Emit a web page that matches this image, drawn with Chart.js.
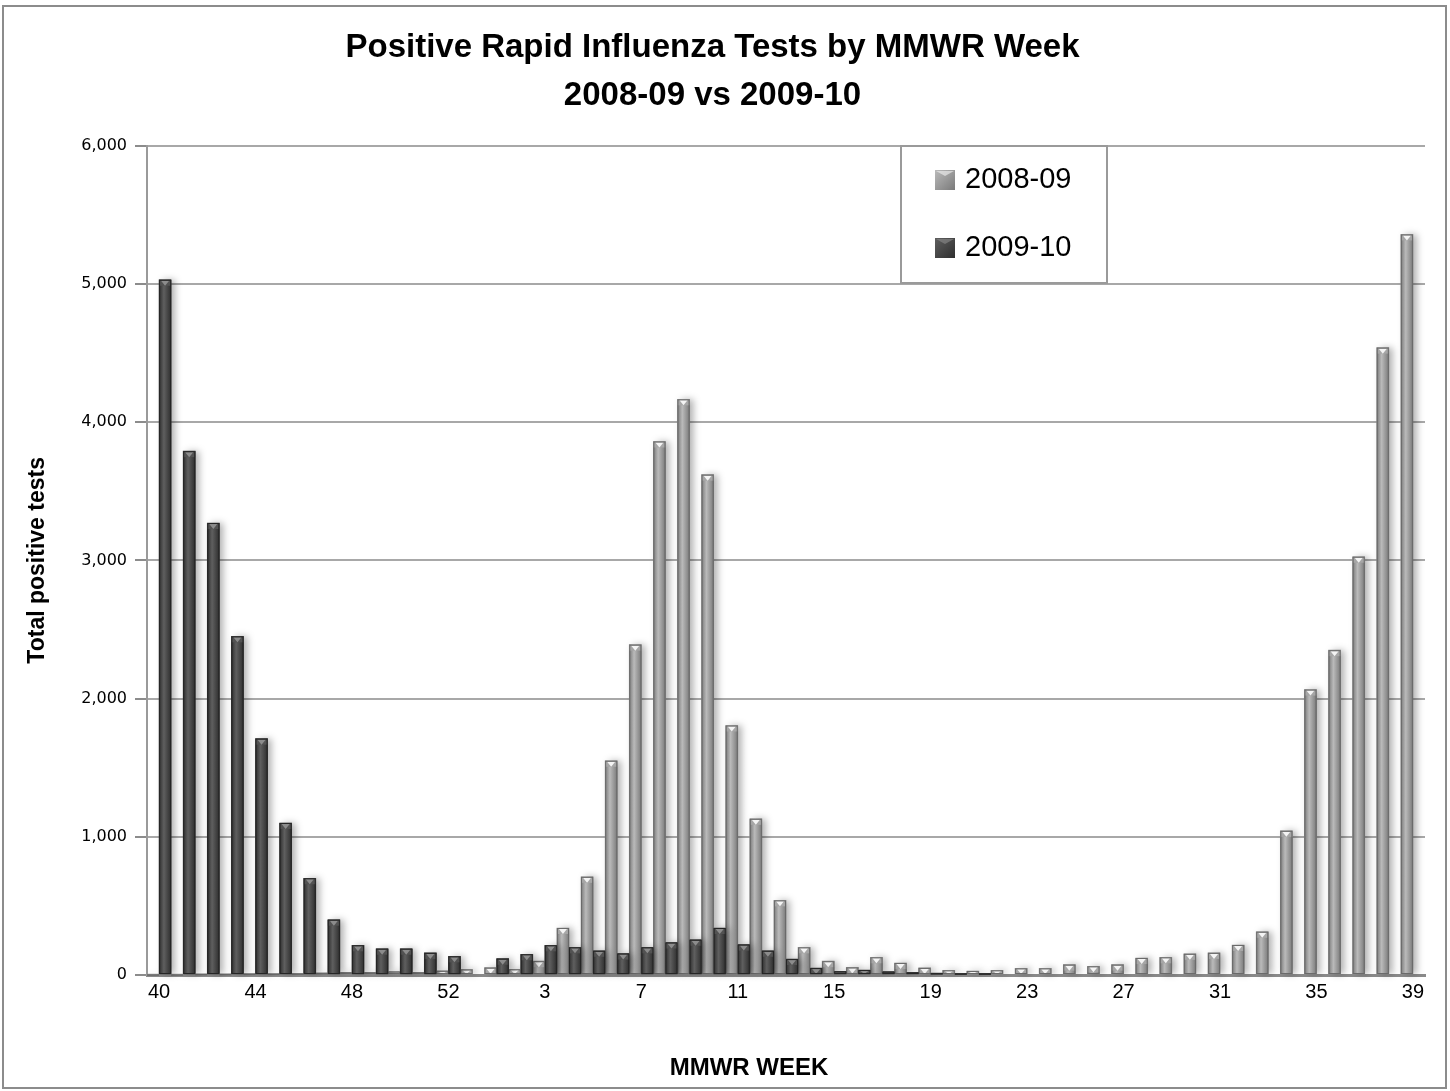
<!DOCTYPE html>
<html>
<head>
<meta charset="utf-8">
<script src="https://cdn.jsdelivr.net/npm/chart.js@4.4.1/dist/chart.umd.min.js"></script>
<style>
  html, body { margin: 0; padding: 0; background: #fff; }
  #wrap { width: 1450px; height: 1091px; }
</style>
</head>
<body>
<div id="wrap"><canvas id="fluChart" width="1450" height="1091"></canvas></div>
<script>
// MMWR weeks of a season: week 40 to week 53, then 1 to 39
var weeks = ['40','41','42','43','44','45','46','47','48','49','50','51','52','53',
  '1','2','3','4','5','6','7','8','9','10','11','12','13','14','15','16','17','18','19','20',
  '21','22','23','24','25','26','27','28','29','30','31','32','33','34','35','36','37','38','39'];
var tickEvery = 4;

var seriesNames = ['2008-09', '2009-10'];

// positive tests per week
var season0809 = [5, 5, 8, 8, 10, 10, 12, 15, 20, 20, 25, 20, 30, 40,
  53, 41, 100, 340, 710, 1550, 2390, 3860, 4165, 3620,
  1805, 1130, 540, 200, 100, 55, 128, 87, 51, 34,
  29, 34, 48, 48, 75, 63, 75, 123, 128, 153,
  160, 217, 313, 1043, 2065, 2350, 3026, 4539, 5358];
var season0910 = [5030, 3790, 3270, 2450, 1710, 1100, 700, 400, 215, 190, 190, 160, 135, null,
  118, 150, 215, 200, 175, 155, 200, 235, 255, 340,
  220, 175, 115, 50, 27, 36, 24, 19, 14, 12,
  12, null, null, null, null, null, null, null, null, null,
  null, null, null, null, null, null, null, null, null];

var yTicks = [0, 1000, 2000, 3000, 4000, 5000, 6000];

var titleLines = ['Positive Rapid Influenza Tests by MMWR Week', '2008-09 vs 2009-10'];
var xTitle = 'MMWR WEEK';
var yTitle = 'Total positive tests';

// shading for the two series (light one at back, dark one in front)
var shades = [
  { base: '#9a9a9a', edge: '#7a7a7a', mid: '#bababa', cap: '#a6a6a6', glint: '#f4f4f4', line: '#6a6a6a' },
  { base: '#464646', edge: '#2e2e2e', mid: '#5f5f5f', cap: '#525252', glint: '#8c8c8c', line: '#252525' }
];

var sans = 'Liberation Sans, Arial, sans-serif';

// white page with the grey outer frame
var frame = {
  id: 'frame',
  beforeDraw: function(chart) {
    var c = chart.ctx;
    c.save();
    c.fillStyle = '#fff';
    c.fillRect(0, 0, chart.width, chart.height);
    c.strokeStyle = '#8c8c8c';
    c.lineWidth = 2;
    c.strokeRect(3, 6, chart.width - 7, chart.height - 9);
    c.restore();
  }
};

// fake the excel 3d look: bevelled columns with a soft shadow
var bevel = {
  id: 'bevel',
  afterDatasetsDraw: function(chart) {
    var c = chart.ctx;
    c.save();
    chart.data.datasets.forEach(function(ds, di) {
      var meta = chart.getDatasetMeta(di);
      var sh = shades[di];
      meta.data.forEach(function(bar, i) {
        var v = ds.data[i];
        if (v == null || v <= 0) return;
        var w = bar.width;
        var left = bar.x - w / 2, right = bar.x + w / 2;
        var top = bar.y, h = bar.base - bar.y;
        var g = c.createLinearGradient(left, 0, right, 0);
        g.addColorStop(0, sh.edge);
        g.addColorStop(0.4, sh.mid);
        g.addColorStop(1, sh.edge);
        c.shadowColor = 'rgba(0,0,0,0.3)';
        c.shadowBlur = 7;
        c.shadowOffsetX = 4;
        c.shadowOffsetY = 0;
        c.fillStyle = g;
        c.fillRect(left, top, w, h);
        c.shadowColor = 'transparent';
        var capH = Math.min(6, h);
        c.fillStyle = sh.cap;
        c.fillRect(left, top, w, capH);
        if (h > 3) {
          c.fillStyle = sh.glint;
          c.beginPath();
          c.moveTo(left + 2, top + 1);
          c.lineTo(right - 2, top + 1);
          c.lineTo(bar.x, top + capH);
          c.closePath();
          c.fill();
        }
        c.strokeStyle = sh.line;
        c.lineWidth = 1;
        c.strokeRect(left + 0.5, top + 0.5, w - 1, Math.max(h - 1, 0.5));
      });
    });
    c.restore();
  }
};

// boxed legend sitting inside the plot, top right
var boxLegend = {
  id: 'boxLegend',
  afterDraw: function(chart) {
    var c = chart.ctx;
    var bx = 901, by = 146, bw = 206, bh = 137;
    c.save();
    c.fillStyle = '#fff';
    c.fillRect(bx, by, bw, bh);
    c.strokeStyle = '#9a9a9a';
    c.lineWidth = 2;
    c.strokeRect(bx, by, bw, bh);
    var rows = [180, 248];
    chart.data.datasets.forEach(function(ds, di) {
      var sh = shades[di];
      var mx = 935, my = rows[di] - 10, ms = 20;
      var g = c.createLinearGradient(mx, my, mx + ms, my + ms);
      g.addColorStop(0, sh.mid);
      g.addColorStop(1, sh.edge);
      c.fillStyle = g;
      c.fillRect(mx, my, ms, ms);
      c.fillStyle = sh.glint;
      c.globalAlpha = 0.6;
      c.beginPath();
      c.moveTo(mx + 1, my + 1);
      c.lineTo(mx + ms - 1, my + 1);
      c.lineTo(mx + ms / 2, my + 6);
      c.closePath();
      c.fill();
      c.globalAlpha = 1;
      c.fillStyle = '#000';
      c.font = '29px ' + sans;
      c.textAlign = 'left';
      c.textBaseline = 'middle';
      c.fillText(ds.label, 965, rows[di]);
    });
    c.restore();
  }
};

// x axis title is centred a bit left of the plot centre in the original
var xTitlePlugin = {
  id: 'xTitlePlugin',
  afterDraw: function(chart) {
    var c = chart.ctx;
    c.save();
    c.fillStyle = '#000';
    c.font = 'bold 24px ' + sans;
    c.textAlign = 'center';
    c.textBaseline = 'middle';
    c.fillText(xTitle, 749, 1068);
    c.restore();
  }
};

new Chart(document.getElementById('fluChart'), {
  type: 'bar',
  data: {
    labels: weeks,
    datasets: [
      { label: seriesNames[0], data: season0809, backgroundColor: shades[0].base },
      { label: seriesNames[1], data: season0910, backgroundColor: shades[1].base }
    ]
  },
  options: {
    responsive: false,
    animation: false,
    devicePixelRatio: 1,
    categoryPercentage: 1.0,
    barPercentage: 1.0,
    layout: { padding: { left: 0, right: 25, top: 0, bottom: 0 } },
    plugins: {
      legend: { display: false },
      tooltip: { enabled: false },
      title: {
        display: true,
        text: titleLines,
        color: '#000',
        font: { family: sans, size: 33, weight: 'bold', lineHeight: 1.45 },
        padding: { top: 24, bottom: 26 }
      }
    },
    scales: {
      x: {
        grid: { display: false, drawTicks: false },
        border: { display: true, color: '#8a8a8a', width: 3 },
        ticks: {
          autoSkip: false,
          maxRotation: 0,
          padding: 5,
          color: '#000',
          font: { family: sans, size: 20 },
          callback: function(v, i) { return i % tickEvery === 0 ? weeks[i] : ''; }
        },
        afterFit: function(s) { s.height = 116; }
      },
      y: {
        min: 0,
        max: 6000,
        afterBuildTicks: function(s) { s.ticks = yTicks.map(function(v) { return { value: v }; }); },
        ticks: {
          padding: 8,
          color: '#000',
          font: { family: 'DejaVu Sans, Verdana, sans-serif', size: 16 },
          callback: function(v) { return Number(v).toLocaleString('en-US'); }
        },
        grid: { color: '#a8a8a8', lineWidth: 2, tickLength: 12, tickColor: '#8c8c8c' },
        border: { color: '#9a9a9a', width: 2 },
        title: {
          display: true,
          text: yTitle,
          color: '#000',
          font: { family: sans, size: 23, weight: 'bold', lineHeight: 1.2 },
          padding: { top: 24, bottom: 0 }
        },
        afterFit: function(s) { s.width = 147; }
      }
    }
  },
  plugins: [frame, bevel, boxLegend, xTitlePlugin]
});
</script>
</body>
</html>
